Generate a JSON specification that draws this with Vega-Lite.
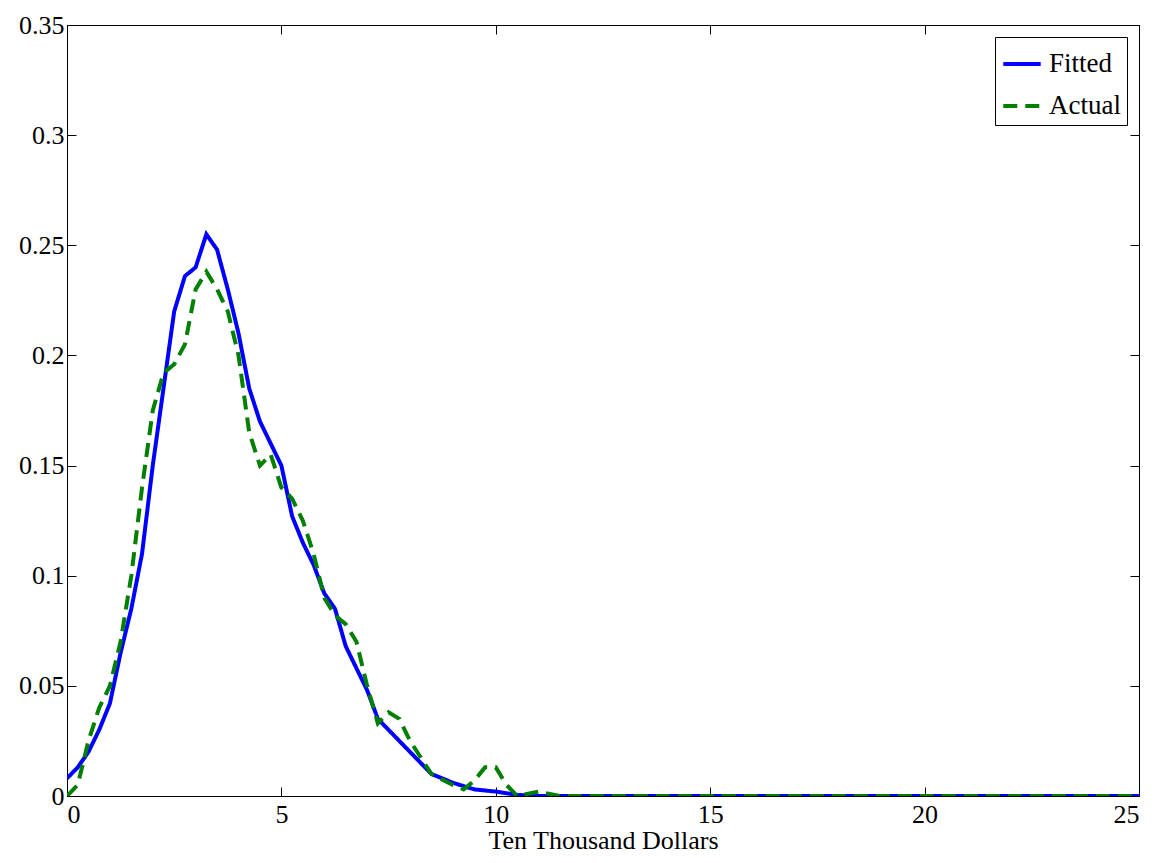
{
  "$schema": "https://vega.github.io/schema/vega-lite/v6.json",
  "width": 1164,
  "height": 863,
  "autosize": {"type": "fit", "contains": "padding"},
  "padding": {"left": 18, "top": 12, "right": 24, "bottom": 10},
  "background": "white",
  "data": {
    "values": [
      {"x": 0, "y": 0.008, "s": "Fitted"}, {"x": 0.25, "y": 0.013, "s": "Fitted"}, {"x": 0.5, "y": 0.02, "s": "Fitted"}, {"x": 0.75, "y": 0.03, "s": "Fitted"},
      {"x": 1.0, "y": 0.042, "s": "Fitted"}, {"x": 1.25, "y": 0.065, "s": "Fitted"}, {"x": 1.5, "y": 0.085, "s": "Fitted"}, {"x": 1.75, "y": 0.11, "s": "Fitted"},
      {"x": 2.0, "y": 0.15, "s": "Fitted"}, {"x": 2.25, "y": 0.185, "s": "Fitted"}, {"x": 2.5, "y": 0.22, "s": "Fitted"}, {"x": 2.75, "y": 0.236, "s": "Fitted"},
      {"x": 3.0, "y": 0.24, "s": "Fitted"}, {"x": 3.25, "y": 0.255, "s": "Fitted"}, {"x": 3.5, "y": 0.248, "s": "Fitted"}, {"x": 3.75, "y": 0.23, "s": "Fitted"},
      {"x": 4.0, "y": 0.21, "s": "Fitted"}, {"x": 4.25, "y": 0.185, "s": "Fitted"}, {"x": 4.5, "y": 0.17, "s": "Fitted"}, {"x": 4.75, "y": 0.16, "s": "Fitted"},
      {"x": 5.0, "y": 0.15, "s": "Fitted"}, {"x": 5.25, "y": 0.127, "s": "Fitted"}, {"x": 5.5, "y": 0.115, "s": "Fitted"}, {"x": 5.75, "y": 0.105, "s": "Fitted"},
      {"x": 6.0, "y": 0.092, "s": "Fitted"}, {"x": 6.25, "y": 0.085, "s": "Fitted"}, {"x": 6.5, "y": 0.068, "s": "Fitted"}, {"x": 6.75, "y": 0.058, "s": "Fitted"},
      {"x": 7.0, "y": 0.048, "s": "Fitted"}, {"x": 7.25, "y": 0.035, "s": "Fitted"}, {"x": 7.5, "y": 0.03, "s": "Fitted"}, {"x": 7.75, "y": 0.025, "s": "Fitted"},
      {"x": 8.0, "y": 0.02, "s": "Fitted"}, {"x": 8.5, "y": 0.01, "s": "Fitted"}, {"x": 9.0, "y": 0.006, "s": "Fitted"}, {"x": 9.5, "y": 0.003, "s": "Fitted"},
      {"x": 10.0, "y": 0.002, "s": "Fitted"}, {"x": 10.5, "y": 0.0005, "s": "Fitted"}, {"x": 11.0, "y": 0, "s": "Fitted"}, {"x": 25, "y": 0, "s": "Fitted"},
      {"x": 0, "y": 0, "s": "Actual"}, {"x": 0.25, "y": 0.005, "s": "Actual"}, {"x": 0.5, "y": 0.025, "s": "Actual"}, {"x": 0.75, "y": 0.04, "s": "Actual"},
      {"x": 1.0, "y": 0.05, "s": "Actual"}, {"x": 1.25, "y": 0.07, "s": "Actual"}, {"x": 1.5, "y": 0.1, "s": "Actual"}, {"x": 1.75, "y": 0.14, "s": "Actual"},
      {"x": 2.0, "y": 0.175, "s": "Actual"}, {"x": 2.25, "y": 0.192, "s": "Actual"}, {"x": 2.5, "y": 0.196, "s": "Actual"}, {"x": 2.75, "y": 0.205, "s": "Actual"},
      {"x": 3.0, "y": 0.23, "s": "Actual"}, {"x": 3.25, "y": 0.238, "s": "Actual"}, {"x": 3.5, "y": 0.23, "s": "Actual"}, {"x": 3.75, "y": 0.22, "s": "Actual"},
      {"x": 4.0, "y": 0.2, "s": "Actual"}, {"x": 4.25, "y": 0.165, "s": "Actual"}, {"x": 4.5, "y": 0.15, "s": "Actual"}, {"x": 4.75, "y": 0.155, "s": "Actual"},
      {"x": 5.0, "y": 0.14, "s": "Actual"}, {"x": 5.25, "y": 0.135, "s": "Actual"}, {"x": 5.5, "y": 0.125, "s": "Actual"}, {"x": 5.75, "y": 0.11, "s": "Actual"},
      {"x": 6.0, "y": 0.09, "s": "Actual"}, {"x": 6.25, "y": 0.082, "s": "Actual"}, {"x": 6.5, "y": 0.078, "s": "Actual"}, {"x": 6.75, "y": 0.07, "s": "Actual"},
      {"x": 7.0, "y": 0.05, "s": "Actual"}, {"x": 7.25, "y": 0.033, "s": "Actual"}, {"x": 7.5, "y": 0.038, "s": "Actual"}, {"x": 7.75, "y": 0.035, "s": "Actual"},
      {"x": 8.0, "y": 0.025, "s": "Actual"}, {"x": 8.5, "y": 0.01, "s": "Actual"}, {"x": 9.0, "y": 0.005, "s": "Actual"}, {"x": 9.25, "y": 0.003, "s": "Actual"},
      {"x": 9.5, "y": 0.007, "s": "Actual"}, {"x": 9.75, "y": 0.013, "s": "Actual"}, {"x": 10.0, "y": 0.013, "s": "Actual"}, {"x": 10.25, "y": 0.005, "s": "Actual"},
      {"x": 10.5, "y": 0, "s": "Actual"}, {"x": 11.0, "y": 0.002, "s": "Actual"}, {"x": 11.5, "y": 0, "s": "Actual"}, {"x": 25, "y": 0, "s": "Actual"}
    ]
  },
  "layer": [
    {
      "mark": {"type": "line", "strokeWidth": 4, "clip": true},
      "encoding": {
        "x": {"field": "x", "type": "quantitative", "scale": {"domain": [0, 25], "nice": false},
              "axis": {"title": "Ten Thousand Dollars", "values": [0, 5, 10, 15, 20, 25], "tickSize": -9, "labelPadding": 14, "titlePadding": 0, "grid": false}},
        "y": {"field": "y", "type": "quantitative", "scale": {"domain": [0, 0.35], "nice": false},
              "axis": {"title": null, "values": [0, 0.05, 0.1, 0.15, 0.2, 0.25, 0.3, 0.35], "labelExpr": "datum.value == 0 ? '0' : format(datum.value, '.2~f')", "tickSize": -9, "labelPadding": 12, "grid": false}},
        "color": {"field": "s", "type": "nominal", "sort": ["Fitted", "Actual"], "scale": {"domain": ["Fitted", "Actual"], "range": ["#0000ff", "#007f00"]},
          "legend": {"title": null, "orient": "top-right", "offset": 12, "symbolType": "stroke", "symbolStrokeWidth": 4, "symbolSize": 1400,
                     "labelFontSize": 27, "labelFont": "Liberation Serif", "labelColor": "black", "rowPadding": 8, "labelOffset": 6,
                     "strokeColor": "black", "fillColor": "white", "padding": 6}},
        "strokeDash": {"field": "s", "type": "nominal", "sort": ["Fitted", "Actual"], "scale": {"domain": ["Fitted", "Actual"], "range": [[1, 0], [14, 8]]},
          "legend": {"title": null, "orient": "top-right", "offset": 12, "symbolType": "stroke", "symbolStrokeWidth": 4, "symbolSize": 1400,
                     "labelFontSize": 27, "labelFont": "Liberation Serif", "labelColor": "black", "rowPadding": 8, "labelOffset": 6,
                     "strokeColor": "black", "fillColor": "white", "padding": 6}}
      }
    },
    {
      "mark": {"type": "line", "opacity": 0},
      "encoding": {
        "x": {"field": "x", "type": "quantitative", "axis": {"orient": "top", "labels": false, "title": null, "values": [0, 5, 10, 15, 20, 25], "tickSize": -9, "grid": false}},
        "y": {"field": "y", "type": "quantitative", "axis": {"orient": "right", "labels": false, "title": null, "values": [0, 0.05, 0.1, 0.15, 0.2, 0.25, 0.3, 0.35], "tickSize": -9, "grid": false}}
      }
    }
  ],
  "resolve": {"axis": {"x": "independent", "y": "independent"}},
  "config": {
    "font": "Liberation Serif",
    "view": {"stroke": "black", "strokeWidth": 1},
    "axis": {"labelFont": "Liberation Serif", "labelFontSize": 26, "labelColor": "black", "titleFont": "Liberation Serif", "titleFontSize": 26, "titleFontWeight": "normal", "titleColor": "black", "domainColor": "black", "tickColor": "black", "domain": true}
  }
}
